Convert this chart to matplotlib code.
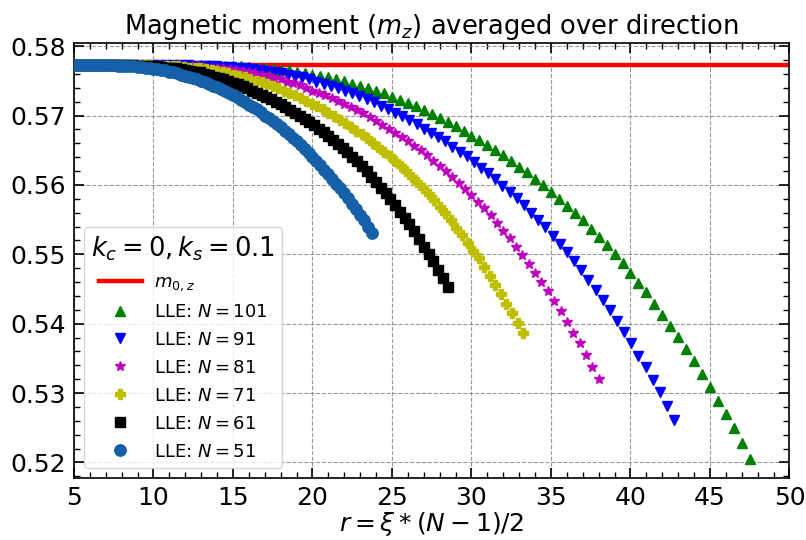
import numpy as np
import matplotlib
matplotlib.use("Agg")
import matplotlib.pyplot as plt
from matplotlib.ticker import MultipleLocator, FormatStrFormatter

# ---- data ----
m0z = 0.57735

# sizes of the chains
Ns = [101, 91, 81, 71, 61, 51]

# m_z values for xi = start/100 ... 0.95 (step 0.01); r = xi*(N-1)/2
m101 = [0.5773, 0.5773, 0.5773, 0.5773, 0.5773, 0.5773, 0.5773, 0.5773, 0.5773, 0.5773,
        0.5773, 0.5773, 0.5773, 0.5773, 0.5773, 0.5773, 0.5773, 0.5773, 0.5773,
        0.5772, 0.5772, 0.5771, 0.5771, 0.5770, 0.5769, 0.5768, 0.5767, 0.5766, 0.5765,
        0.5763, 0.5761, 0.5759, 0.5757, 0.5755, 0.5752, 0.5750, 0.5746, 0.5743, 0.5740,
        0.5736, 0.5732, 0.5727, 0.5723, 0.5718, 0.5713, 0.5708, 0.5702, 0.5697, 0.5691,
        0.5685, 0.5678, 0.5671, 0.5665, 0.5658, 0.5650, 0.5643, 0.5634, 0.5626, 0.5618,
        0.5609, 0.5600, 0.5590, 0.5580, 0.5570, 0.5560, 0.5549, 0.5537, 0.5525, 0.5513,
        0.5500, 0.5487, 0.5473, 0.5459, 0.5445, 0.5429, 0.5413, 0.5397, 0.5381, 0.5364,
        0.5346, 0.5328, 0.5308, 0.5289, 0.5270, 0.5249, 0.5228, 0.5205]
m91 = [0.5773, 0.5773, 0.5773, 0.5773, 0.5773, 0.5773, 0.5773, 0.5773, 0.5773, 0.5773,
       0.5773, 0.5773, 0.5773, 0.5773, 0.5773, 0.5773, 0.5773, 0.5773,
       0.5772, 0.5772, 0.5771, 0.5771, 0.5770, 0.5770, 0.5769, 0.5768, 0.5767, 0.5766,
       0.5764, 0.5763, 0.5761, 0.5759, 0.5757, 0.5755, 0.5752, 0.5749, 0.5746, 0.5743,
       0.5740, 0.5736, 0.5732, 0.5728, 0.5724, 0.5719, 0.5714, 0.5709, 0.5704, 0.5699,
       0.5694, 0.5688, 0.5681, 0.5675, 0.5669, 0.5663, 0.5655, 0.5648, 0.5641, 0.5633,
       0.5625, 0.5617, 0.5608, 0.5599, 0.5590, 0.5581, 0.5571, 0.5560, 0.5550, 0.5539,
       0.5527, 0.5515, 0.5503, 0.5490, 0.5477, 0.5463, 0.5449, 0.5434, 0.5419, 0.5404,
       0.5388, 0.5372, 0.5354, 0.5337, 0.5319, 0.5301, 0.5281, 0.5261]
m81 = [0.5773, 0.5773, 0.5773, 0.5773, 0.5773, 0.5773, 0.5773, 0.5773, 0.5773, 0.5773,
       0.5773, 0.5773, 0.5773, 0.5773, 0.5773, 0.5773,
       0.5772, 0.5772, 0.5772, 0.5771, 0.5771, 0.5770, 0.5769, 0.5769, 0.5768, 0.5767,
       0.5765, 0.5764, 0.5762, 0.5761, 0.5759, 0.5757, 0.5754, 0.5752, 0.5749, 0.5747,
       0.5744, 0.5740, 0.5736, 0.5733, 0.5729, 0.5725, 0.5721, 0.5716, 0.5712, 0.5708,
       0.5703, 0.5698, 0.5692, 0.5687, 0.5681, 0.5675, 0.5669, 0.5663, 0.5656, 0.5650,
       0.5643, 0.5635, 0.5627, 0.5620, 0.5611, 0.5603, 0.5594, 0.5585, 0.5575, 0.5566,
       0.5556, 0.5545, 0.5534, 0.5523, 0.5511, 0.5499, 0.5486, 0.5473, 0.5460, 0.5447,
       0.5433, 0.5418, 0.5402, 0.5387, 0.5372, 0.5355, 0.5338, 0.5320]
m71 = [0.5773, 0.5773, 0.5773, 0.5773, 0.5773, 0.5773, 0.5773, 0.5773, 0.5773, 0.5773,
       0.5773, 0.5773, 0.5773, 0.5773, 0.5773, 0.5773,
       0.5772, 0.5772, 0.5772, 0.5771, 0.5771, 0.5770, 0.5769, 0.5768, 0.5768, 0.5767,
       0.5765, 0.5764, 0.5762, 0.5761, 0.5759, 0.5757, 0.5755, 0.5753, 0.5750, 0.5748,
       0.5745, 0.5742, 0.5739, 0.5736, 0.5732, 0.5729, 0.5725, 0.5721, 0.5717, 0.5713,
       0.5709, 0.5704, 0.5699, 0.5694, 0.5689, 0.5684, 0.5678, 0.5673, 0.5667, 0.5661,
       0.5655, 0.5648, 0.5642, 0.5635, 0.5627, 0.5620, 0.5612, 0.5604, 0.5596, 0.5587,
       0.5578, 0.5568, 0.5559, 0.5549, 0.5538, 0.5528, 0.5516, 0.5505, 0.5494, 0.5482,
       0.5469, 0.5456, 0.5443, 0.5429, 0.5415, 0.5401, 0.5386]
m61 = [0.5773, 0.5773, 0.5773, 0.5773, 0.5773, 0.5773, 0.5773, 0.5773, 0.5773, 0.5773,
       0.5773, 0.5773, 0.5773, 0.5773, 0.5773,
       0.5772, 0.5772, 0.5772, 0.5771, 0.5771, 0.5770, 0.5769, 0.5769, 0.5768, 0.5767,
       0.5765, 0.5764, 0.5763, 0.5762, 0.5760, 0.5758, 0.5756, 0.5754, 0.5752, 0.5750,
       0.5747, 0.5745, 0.5742, 0.5740, 0.5736, 0.5733, 0.5730, 0.5727, 0.5724, 0.5720,
       0.5716, 0.5712, 0.5708, 0.5704, 0.5700, 0.5695, 0.5691, 0.5686, 0.5681, 0.5676,
       0.5670, 0.5665, 0.5659, 0.5653, 0.5647, 0.5640, 0.5634, 0.5627, 0.5620, 0.5612,
       0.5604, 0.5596, 0.5588, 0.5580, 0.5571, 0.5561, 0.5552, 0.5543, 0.5533, 0.5522,
       0.5511, 0.5501, 0.5490, 0.5478, 0.5466, 0.5453]
m51 = [0.5773, 0.5773, 0.5773, 0.5773, 0.5773, 0.5773, 0.5773, 0.5773, 0.5773, 0.5773,
       0.5773, 0.5773, 0.5773,
       0.5772, 0.5772, 0.5772, 0.5771, 0.5771, 0.5770, 0.5770, 0.5769, 0.5768, 0.5767,
       0.5767, 0.5766, 0.5765, 0.5763, 0.5762, 0.5761, 0.5759, 0.5757, 0.5756, 0.5754,
       0.5752, 0.5750, 0.5748, 0.5745, 0.5743, 0.5741, 0.5738, 0.5735, 0.5732, 0.5729,
       0.5726, 0.5723, 0.5719, 0.5715, 0.5712, 0.5709, 0.5705, 0.5700, 0.5696, 0.5692,
       0.5688, 0.5683, 0.5678, 0.5673, 0.5668, 0.5663, 0.5657, 0.5652, 0.5646, 0.5640,
       0.5634, 0.5629, 0.5622, 0.5616, 0.5609, 0.5602, 0.5596, 0.5589, 0.5581, 0.5573,
       0.5565, 0.5557, 0.5549, 0.5540, 0.5531]

series = [m101, m91, m81, m71, m61, m51]
labels = [r'LLE: $N=101$', r'LLE: $N=91$', r'LLE: $N=81$',
          r'LLE: $N=71$', r'LLE: $N=61$', r'LLE: $N=51$']

# ---- styles ----
styles = [dict(marker='^', color='g', ms=7.5),
          dict(marker='v', color='b', ms=7.5),
          dict(marker='*', color='m', ms=7.5),
          dict(marker='P', color='y', ms=7.3),
          dict(marker='s', color='k', ms=6.8),
          dict(marker='o', color='#1560a8', ms=8.2)]

fig = plt.figure(figsize=(8.06, 5.40), dpi=100)
ax = fig.add_axes([0.0918, 0.1154, 0.8877, 0.8056])

ax.axhline(m0z, color='red', lw=3.2, label=r'$m_{0,z}$', zorder=2)

for N, m, lab, st in zip(Ns, series, labels, styles):
    m = np.asarray(m)
    xi = np.arange(96 - len(m), 96) / 100.0
    r = xi * (N - 1) / 2.0
    ax.plot(r, m, linestyle='none', marker=st['marker'], color=st['color'],
            markersize=st['ms'], markeredgewidth=1.0, label=lab, zorder=3)

ax.set_xlim(5, 50)
ax.set_ylim(0.5178, 0.5805)
ax.xaxis.set_major_locator(MultipleLocator(5))
ax.xaxis.set_minor_locator(MultipleLocator(1))
ax.yaxis.set_major_locator(MultipleLocator(0.01))
ax.yaxis.set_minor_locator(MultipleLocator(0.002))
ax.yaxis.set_major_formatter(FormatStrFormatter('%.2f'))

ax.tick_params(which='both', direction='in', top=True, right=True)
ax.tick_params(which='major', length=7, width=1.2, labelsize=18, pad=6)
ax.tick_params(which='minor', length=4, width=1.0)
for sp in ax.spines.values():
    sp.set_linewidth(1.2)

ax.grid(True, which='major', linestyle='--', color='gray', linewidth=0.8, alpha=0.8)

ax.set_title(r'Magnetic moment ($m_z$) averaged over direction', fontsize=18.5, pad=6)
ax.set_xlabel(r'$r = \xi * (N-1)/2$', fontsize=18, labelpad=0)

leg = ax.legend(loc='lower left', fontsize=13, title=r'$k_c=0, k_s=0.1$',
                title_fontsize=18.5, numpoints=1, borderaxespad=0.55,
                handlelength=2.4, handletextpad=0.7, labelspacing=0.55)

fig.savefig('out.png', dpi=100)
